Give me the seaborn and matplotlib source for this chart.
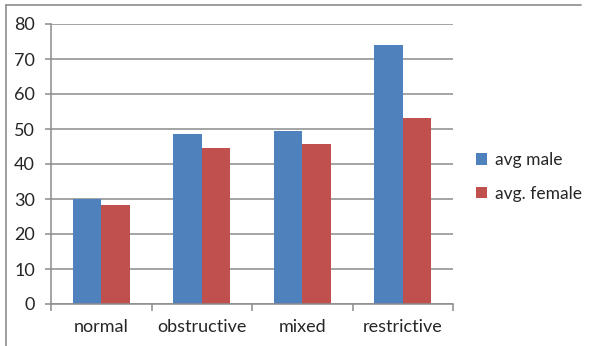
import matplotlib
matplotlib.use("Agg")
import matplotlib.pyplot as plt
import seaborn as sns
import pandas as pd
from matplotlib.lines import Line2D
from matplotlib.patches import Patch

# Chart data
categories = ["normal", "obstructive", "mixed", "restrictive"]
avg_male = [30.0, 48.6, 49.4, 74.0]
avg_female = [28.2, 44.5, 45.7, 53.2]
series_names = ["avg male", "avg. female"]
y_ticks = [0, 10, 20, 30, 40, 50, 60, 70, 80]

df = pd.DataFrame({
    "category": categories * 2,
    "value": avg_male + avg_female,
    "series": [series_names[0]] * len(categories) + [series_names[1]] * len(categories),
})

sns.set_style("white")
plt.rcParams["font.family"] = ["Lato", "DejaVu Sans"]

colors = ["#4F81BD", "#C0504D"]
grid_gray = "#8C8C8C"
text_color = "#262626"

W, H = 590, 346
fig = plt.figure(figsize=(W / 100, H / 100), dpi=100)
ax = fig.add_axes([51 / W, 1 - 304 / H, (453 - 51) / W, (304 - 24) / H])

sns.barplot(data=df, x="category", y="value", hue="series", palette=colors,
            order=categories, hue_order=series_names, width=0.57,
            saturation=1, edgecolor="none", ax=ax, legend=False)

ax.set_ylim(0, 80)
ax.set_xlim(-0.5, len(categories) - 0.5)
ax.set_yticks(y_ticks)
ax.set_xlabel("")
ax.set_ylabel("")
ax.yaxis.grid(True, color=grid_gray, linewidth=1.1)
ax.set_axisbelow(True)

for side in ["top", "right"]:
    ax.spines[side].set_visible(False)
for side in ["left", "bottom"]:
    ax.spines[side].set_color(grid_gray)
    ax.spines[side].set_linewidth(1.1)

ax.tick_params(axis="y", which="major", length=4.5, width=1.1, color=grid_gray,
               pad=7, labelsize=13, labelcolor=text_color, left=True)
ax.tick_params(axis="x", which="major", length=0, pad=11, labelsize=13,
               labelcolor=text_color)
# category boundary tick marks
ax.set_xticks([i - 0.5 for i in range(len(categories) + 1)], minor=True)
ax.tick_params(axis="x", which="minor", length=5, width=1.1, color=grid_gray,
               bottom=True, direction="out")

# outer chart frame (top and left edges)
fig.add_artist(Line2D([6 / W, 581 / W], [1 - 5 / H, 1 - 5 / H],
                      transform=fig.transFigure, color=grid_gray, linewidth=1.2))
fig.add_artist(Line2D([6 / W, 6 / W], [1 - 5 / H, 0],
                      transform=fig.transFigure, color=grid_gray, linewidth=1.2))

handles = [Patch(facecolor=c, edgecolor="none") for c in colors]
fig.legend(handles, series_names, loc="center left",
           bbox_to_anchor=(462 / W, 1 - 177 / H), frameon=False,
           fontsize=12.5, handlelength=0.65, handleheight=0.65,
           handletextpad=0.45, labelspacing=1.0, labelcolor=text_color,
           borderpad=0.3)

fig.savefig("out.png", dpi=100, facecolor="white")
